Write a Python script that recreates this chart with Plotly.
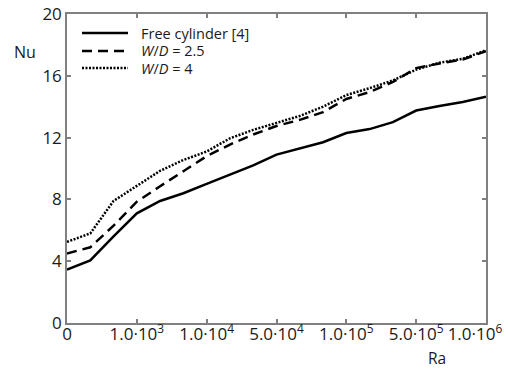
import plotly.graph_objects as go

# x positions in "tick index" units (data points every 1/3 of a tick interval)
x_pos = [k / 3 for k in range(19)]
tick_vals = [0, 1, 2, 3, 4, 5, 6]
tick_text = ["0", "1.0·10<sup>3</sup>", "1.0·10<sup>4</sup>", "5.0·10<sup>4</sup>",
             "1.0·10<sup>5</sup>", "5.0·10<sup>5</sup>",
             "1.0·10<sup>6</sup>&nbsp;&nbsp;&nbsp;&nbsp;&nbsp;"]
y_ticks = [0, 4, 8, 12, 16, 20]

nu_free = [3.45, 4.05, 5.6, 7.1, 7.9, 8.4, 9.0, 9.6, 10.2, 10.9, 11.3, 11.7,
           12.3, 12.55, 13.0, 13.75, 14.05, 14.3, 14.65]
nu_wd25 = [4.5, 4.9, 6.3, 7.85, 8.85, 9.8, 10.8, 11.55, 12.2, 12.75, 13.15, 13.65,
           14.5, 14.95, 15.6, 16.5, 16.8, 17.05, 17.6]
nu_wd4 = [5.25, 5.8, 7.9, 8.85, 9.85, 10.55, 11.1, 11.95, 12.5, 12.95, 13.4, 14.0,
          14.75, 15.2, 15.7, 16.4, 16.85, 17.1, 17.65]

series_names = ["Free cylinder [4]", "<i>W</i>/<i>D</i> = 2.5", "<i>W</i>/<i>D</i> = 4"]
series_vals = [nu_free, nu_wd25, nu_wd4]
dashes = ["solid", "10px,6px", "2px,1.5px"]

FONT = "Open Sans"
TXT = "#1a1a1a"
fig = go.Figure()
for name, vals, dash in zip(series_names, series_vals, dashes):
    fig.add_trace(go.Scatter(x=x_pos, y=vals, mode="lines", name=name, showlegend=False,
                             line=dict(color="black", width=2.5, dash=dash)))

# manual legend (long sample lines like the reference)
leg_rows = [0.9385, 0.8803, 0.8252]
for name, dash, yy in zip(series_names, dashes, leg_rows):
    fig.add_shape(type="line", xref="paper", yref="paper", x0=0.0358, x1=0.1456,
                  y0=yy, y1=yy, line=dict(color="black", width=2.5, dash=dash))
    fig.add_annotation(text=name, xref="paper", yref="paper", x=0.172, y=yy,
                       xanchor="left", yanchor="middle", showarrow=False,
                       font=dict(family=FONT, size=14.5, color=TXT))

axis_common = dict(showgrid=False, zeroline=False, showline=True, linecolor="#808080",
                   linewidth=1.5, mirror="ticks", ticks="inside", ticklen=4,
                   tickcolor="#808080", tickwidth=1.5, automargin=False,
                   tickfont=dict(family=FONT, size=17, color=TXT))

fig.update_xaxes(range=[0, 6], tickvals=tick_vals, ticktext=tick_text,
                 ticklabeloverflow="allow", ticklabelstandoff=-5, **axis_common)
fig.update_yaxes(range=[0, 20], tickvals=y_ticks, **axis_common)

fig.add_annotation(text="Nu", xref="paper", yref="paper", x=-0.1, y=0.877,
                   xanchor="center", yanchor="middle",
                   showarrow=False, font=dict(family=FONT, size=16, color=TXT))
fig.add_annotation(text="Ra", xref="x", yref="paper", x=5.3, y=-0.113,
                   xanchor="center", yanchor="middle",
                   showarrow=False, font=dict(family=FONT, size=15.5, color=TXT))

fig.update_layout(
    width=508, height=369,
    margin=dict(l=67, r=22, t=14, b=46),
    plot_bgcolor="white", paper_bgcolor="white",
    showlegend=False,
)

fig.write_html("out.html")
